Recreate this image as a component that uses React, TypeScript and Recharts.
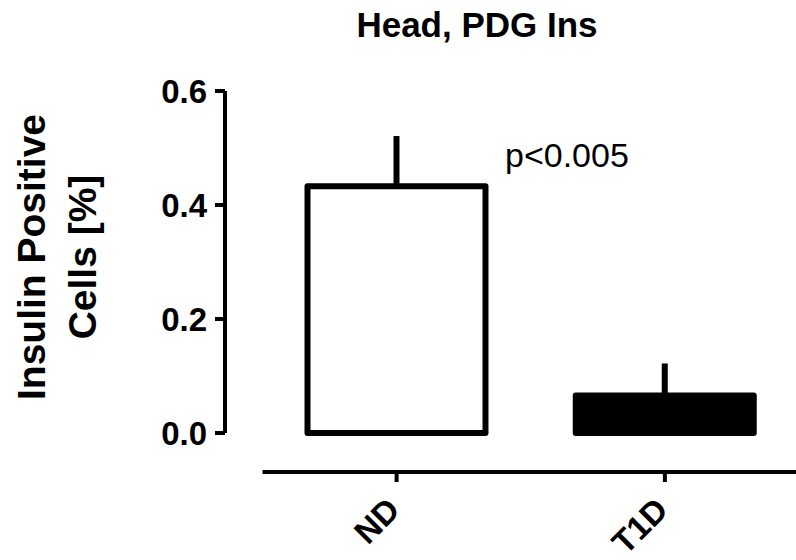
import {
  Bar,
  BarChart,
  Cell,
  Customized,
  ErrorBar,
  XAxis,
  YAxis,
} from "recharts";

const groups = ["ND", "T1D"];
const means = [0.433, 0.066];
const errUp = [0.088, 0.056];
const fills = ["#ffffff", "#000000"];
const yTicks = [0, 0.2, 0.4, 0.6];

const data = groups.map((name, i) => ({
  name,
  mean: means[i],
  err: [0, errUp[i]],
}));

const font = "'Liberation Sans', Arial, Helvetica, sans-serif";

function RotTick(props: any) {
  const { x, y, payload } = props;
  return (
    <g transform={`translate(${x + 5},${y + 28}) rotate(-45)`}>
      <text
        textAnchor="end"
        fontFamily={font}
        fontWeight="bold"
        fontSize={33}
        fill="#000"
      >
        {payload.value}
      </text>
    </g>
  );
}

function Labels() {
  return (
    <g fontFamily={font} fill="#000">
      <text x={477} y={37} textAnchor="middle" fontWeight="bold" fontSize={35}>
        Head, PDG Ins
      </text>
      <text x={505} y={167} fontSize={34}>
        p&lt;0.005
      </text>
      <text
        transform="translate(45,257) rotate(-90)"
        textAnchor="middle"
        fontWeight="bold"
        fontSize={39}
      >
        Insulin Positive
      </text>
      <text
        transform="translate(96,257) rotate(-90)"
        textAnchor="middle"
        fontWeight="bold"
        fontSize={39}
      >
        Cells [%]
      </text>
    </g>
  );
}

export default function App() {
  return (
    <div
      style={{
        position: "absolute",
        left: 0,
        top: 0,
        width: 796,
        height: 560,
        overflow: "hidden",
        background: "#fff",
      }}
    >
      <BarChart
        width={800}
        height={560}
        data={data}
        margin={{ top: 91, right: 1, bottom: 0, left: 105 }}
        barSize={178}
      >
        <XAxis
          xAxisId="gap"
          dataKey="name"
          height={39}
          axisLine={false}
          tickLine={false}
          tick={false}
        />
        <XAxis
          xAxisId="main"
          dataKey="name"
          height={88}
          interval={0}
          tickSize={10}
          axisLine={{ stroke: "#000", strokeWidth: 4 }}
          tickLine={{ stroke: "#000", strokeWidth: 4 }}
          tick={<RotTick />}
        />
        <YAxis
          yAxisId="gap"
          width={37.5}
          domain={[0, 0.6]}
          axisLine={false}
          tickLine={false}
          tick={false}
        />
        <YAxis
          yAxisId="main"
          width={120}
          domain={[0, 0.6]}
          ticks={yTicks}
          tickFormatter={(v: number) => v.toFixed(1)}
          tickSize={10}
          tickMargin={8}
          axisLine={{ stroke: "#000", strokeWidth: 4 }}
          tickLine={{ stroke: "#000", strokeWidth: 4 }}
          tick={{
            fill: "#000",
            fontSize: 33,
            fontWeight: "bold",
            fontFamily: font,
          }}
        />
        <Bar
          dataKey="mean"
          xAxisId="main"
          yAxisId="main"
          stroke="#000"
          strokeWidth={6}
          strokeLinejoin="round"
          isAnimationActive={false}
        >
          {data.map((d, i) => (
            <Cell key={d.name} fill={fills[i]} />
          ))}
          <ErrorBar
            dataKey="err"
            direction="y"
            width={0}
            stroke="#000"
            strokeWidth={6}
            isAnimationActive={false}
          />
        </Bar>
        <Customized component={<Labels />} />
      </BarChart>
    </div>
  );
}
